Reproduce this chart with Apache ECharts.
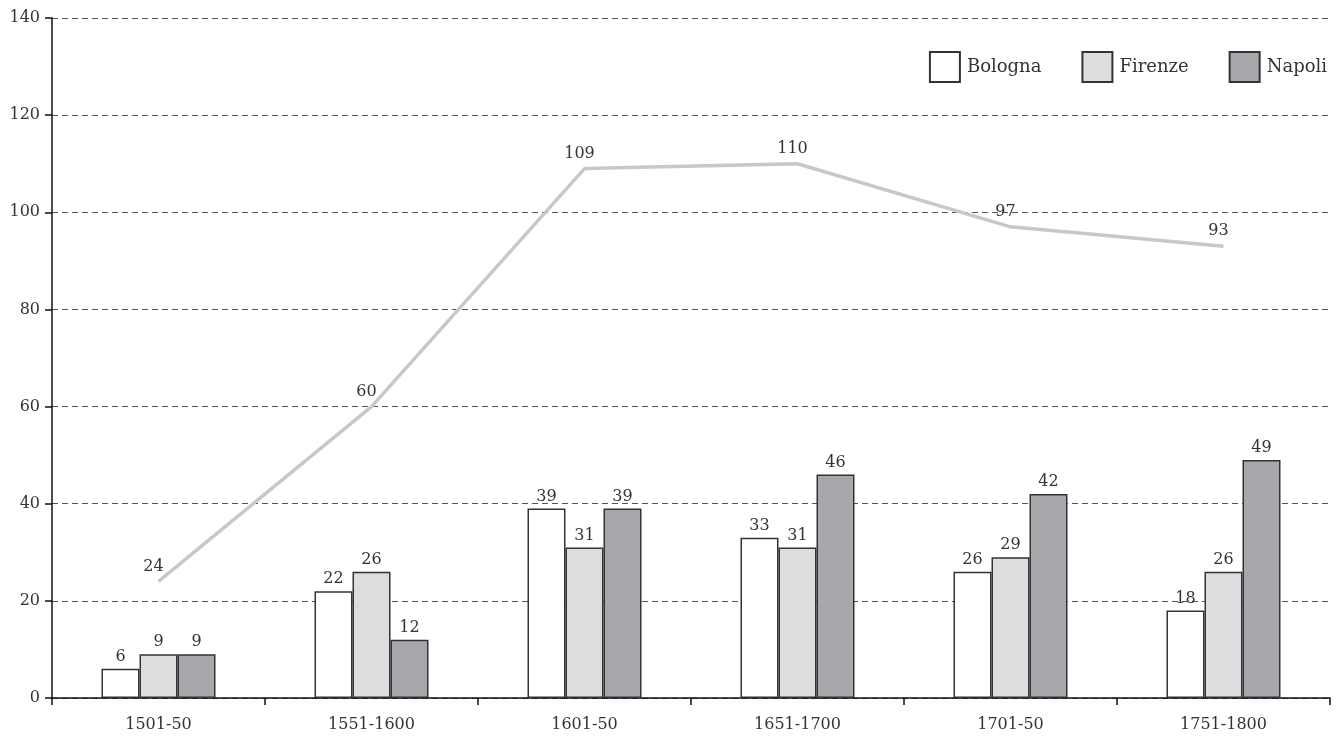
<!DOCTYPE html>
<html>
<head>
<meta charset="utf-8">
<script src="https://cdn.jsdelivr.net/npm/echarts@6/dist/echarts.min.js"></script>
<style>
  html, body { margin: 0; padding: 0; background: #fff; }
  #chart { width: 1339px; height: 736px; }
</style>
</head>
<body>
<div id="chart"></div>
<script>
const categories = ['1501-50', '1551-1600', '1601-50', '1651-1700', '1701-50', '1751-1800'];
const bologna = [6, 22, 39, 33, 26, 18];
const firenze = [9, 26, 31, 31, 29, 26];
const napoli = [9, 12, 39, 46, 42, 49];
const totale = [24, 60, 109, 110, 97, 93];

const FONT = '"DejaVu Serif", "Liberation Serif", serif';
const barBorder = { borderColor: '#333', borderWidth: 1.5 };
const barLabel = { show: true, position: 'top', distance: 4, color: '#333', fontFamily: FONT, fontSize: 16 };

function barSeries(name, data, color) {
  return {
    name, type: 'bar', data, barWidth: 38, barGap: '0%',
    itemStyle: Object.assign({ color }, barBorder),
    label: barLabel,
    z: 2
  };
}

const chart = echarts.init(document.getElementById('chart'), null, { renderer: 'canvas' });
chart.setOption({
  animation: false,
  backgroundColor: '#fff',
  grid: { left: 52, right: 9, top: 18, bottom: 38, containLabel: false },
  legend: {
    data: ['Bologna', 'Firenze', 'Napoli'],
    right: 7, top: 46,
    itemWidth: 30, itemHeight: 30, itemGap: 40,
    textStyle: { fontFamily: FONT, fontSize: 18, color: '#333', padding: [0, 0, 0, 2] },
    icon: 'rect'
  },
  xAxis: {
    type: 'category', data: categories,
    axisLine: { lineStyle: { color: '#111', width: 1.5 } },
    axisTick: { show: true, length: 7, interval: 0, lineStyle: { color: '#111', width: 1.5 } },
    axisLabel: { fontFamily: FONT, fontSize: 16, color: '#333', margin: 19 }
  },
  yAxis: {
    type: 'value', min: 0, max: 140, interval: 20,
    axisLine: { show: true, lineStyle: { color: '#111', width: 1.5 } },
    axisTick: { show: true, length: 7, lineStyle: { color: '#111', width: 1.5 } },
    axisLabel: { fontFamily: FONT, fontSize: 16, color: '#333', margin: 12 },
    splitLine: { show: true, lineStyle: { color: '#555', type: [6, 4], width: 1 } }
  },
  series: [
    barSeries('Bologna', bologna, '#ffffff'),
    barSeries('Firenze', firenze, '#dcdddf'),
    barSeries('Napoli', napoli, '#a7a8ab'),
    {
      name: 'Totale', type: 'line', data: totale,
      showSymbol: true, symbol: 'circle', symbolSize: 0,
      lineStyle: { color: '#c8c8c8', width: 3.5 },
      itemStyle: { color: '#c8c8c8' },
      label: { show: true, position: 'top', distance: 7, offset: [-5, 0], color: '#333', fontFamily: FONT, fontSize: 16 },
      z: 3
    }
  ]
});
</script>
</body>
</html>
